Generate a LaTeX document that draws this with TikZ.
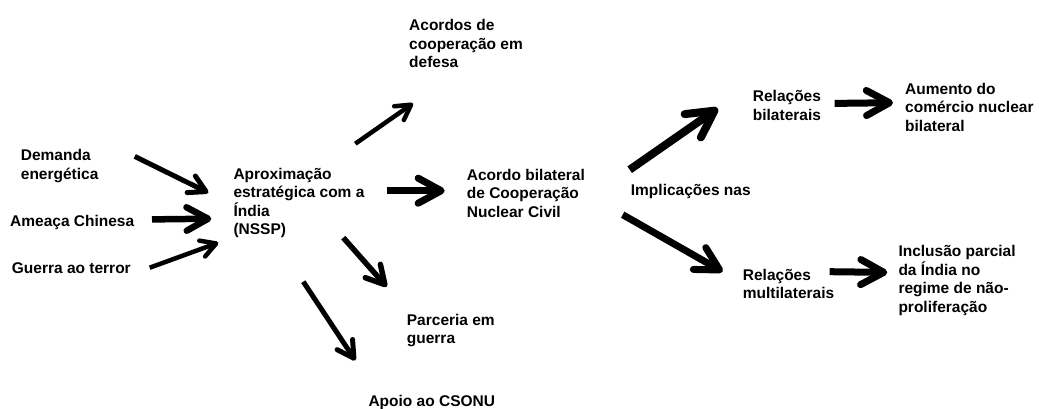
\documentclass[tikz,border=0pt]{standalone}
\usepackage{fontspec}
\setmainfont{Liberation Sans}
\usetikzlibrary{arrows.meta}
\tikzstyle{topic} = [anchor=north west, inner sep=0pt, align=left, font=\fontsize{15.5}{18.5}\selectfont\bfseries]
\tikzstyle{arrow} = [line width=7pt, -{Straight Barb[length=0pt 3.3, width=2pt 3.3, round]}]
\tikzstyle{thinarrow} = [arrow, line width=4.5pt]

\begin{document}
\begin{tikzpicture}[x=1pt, y=-1pt]
		\useasboundingbox (0,0) rectangle (1039,409);
		% causes
		\node (dem) [topic] at (20.7,149.4) {Demanda\\energética};
		\node (ame) [topic] at (10,215.4) {Ameaça Chinesa};
		\node (gue) [topic] at (11.7,262.7) {Guerra ao terror};
		\node (nssp) [topic] at (233.3,167.7) {Aproximação\\estratégica com a\\Índia\\(NSSP)};
		% results
		\node (def) [topic] at (409,19.4) {Acordos de\\cooperação em\\defesa};
		\node (acb) [topic] at (466.7,168.7) {Acordo bilateral\\de Cooperação\\Nuclear Civil};
		\node (par) [topic] at (406.7,313.7) {Parceria em\\guerra};
		\node (apo) [topic] at (368.3,395.4) {Apoio ao CSONU};
		% implications
		\node (imp) [topic] at (630.7,183.7) {Implicações nas};
		\node (rbi) [topic] at (752.7,90.4) {Relações\\bilaterais};
		\node (aum) [topic] at (905,82.7) {Aumento do\\comércio nuclear\\bilateral};
		\node (rmu) [topic] at (742.7,268.7) {Relações\\multilaterais};
		\node (inc) [topic] at (898.3,245.4) {Inclusão parcial\\da Índia no\\regime de não-\\proliferação};
		\draw [arrow, line width=5pt] ([shift={(114,7)}]dem.north west) -- ([shift={(-25,25)}]nssp.north west);
		\draw [arrow, line width=6.5pt] ([shift={(142,4)}]ame.north west) -- ([shift={(-22,51)}]nssp.north west);
		\draw [thinarrow] ([shift={(138,5)}]gue.north west) -- ([shift={(-15,75)}]nssp.north west);
		\draw [thinarrow] ([shift={(122,-24)}]nssp.north west) -- ([shift={(4,84)}]def.north west);
		\draw [arrow] ([shift={(154,23)}]nssp.north west) -- ([shift={(-22,22)}]acb.north west);
		\draw [arrow, line width=5.5pt] ([shift={(110,70)}]nssp.north west) -- ([shift={(-20,-27)}]par.north west);
		\draw [arrow, line width=5pt] ([shift={(70,114)}]nssp.north west) -- ([shift={(-13,-35)}]apo.north west);
		\draw [arrow, line width=8pt] ([shift={(-1,-14)}]imp.north west) -- ([shift={(-35,18)}]rbi.north west);
		\draw [arrow] ([shift={(-8,31)}]imp.north west) -- ([shift={(-20,3)}]rmu.north west);
		\draw [arrow] ([shift={(82,13)}]rbi.north west) -- ([shift={(-12,20)}]aum.north west);
		\draw [arrow] ([shift={(87,3)}]rmu.north west) -- ([shift={(-11,27)}]inc.north west);
	\end{tikzpicture}
\end{document}
